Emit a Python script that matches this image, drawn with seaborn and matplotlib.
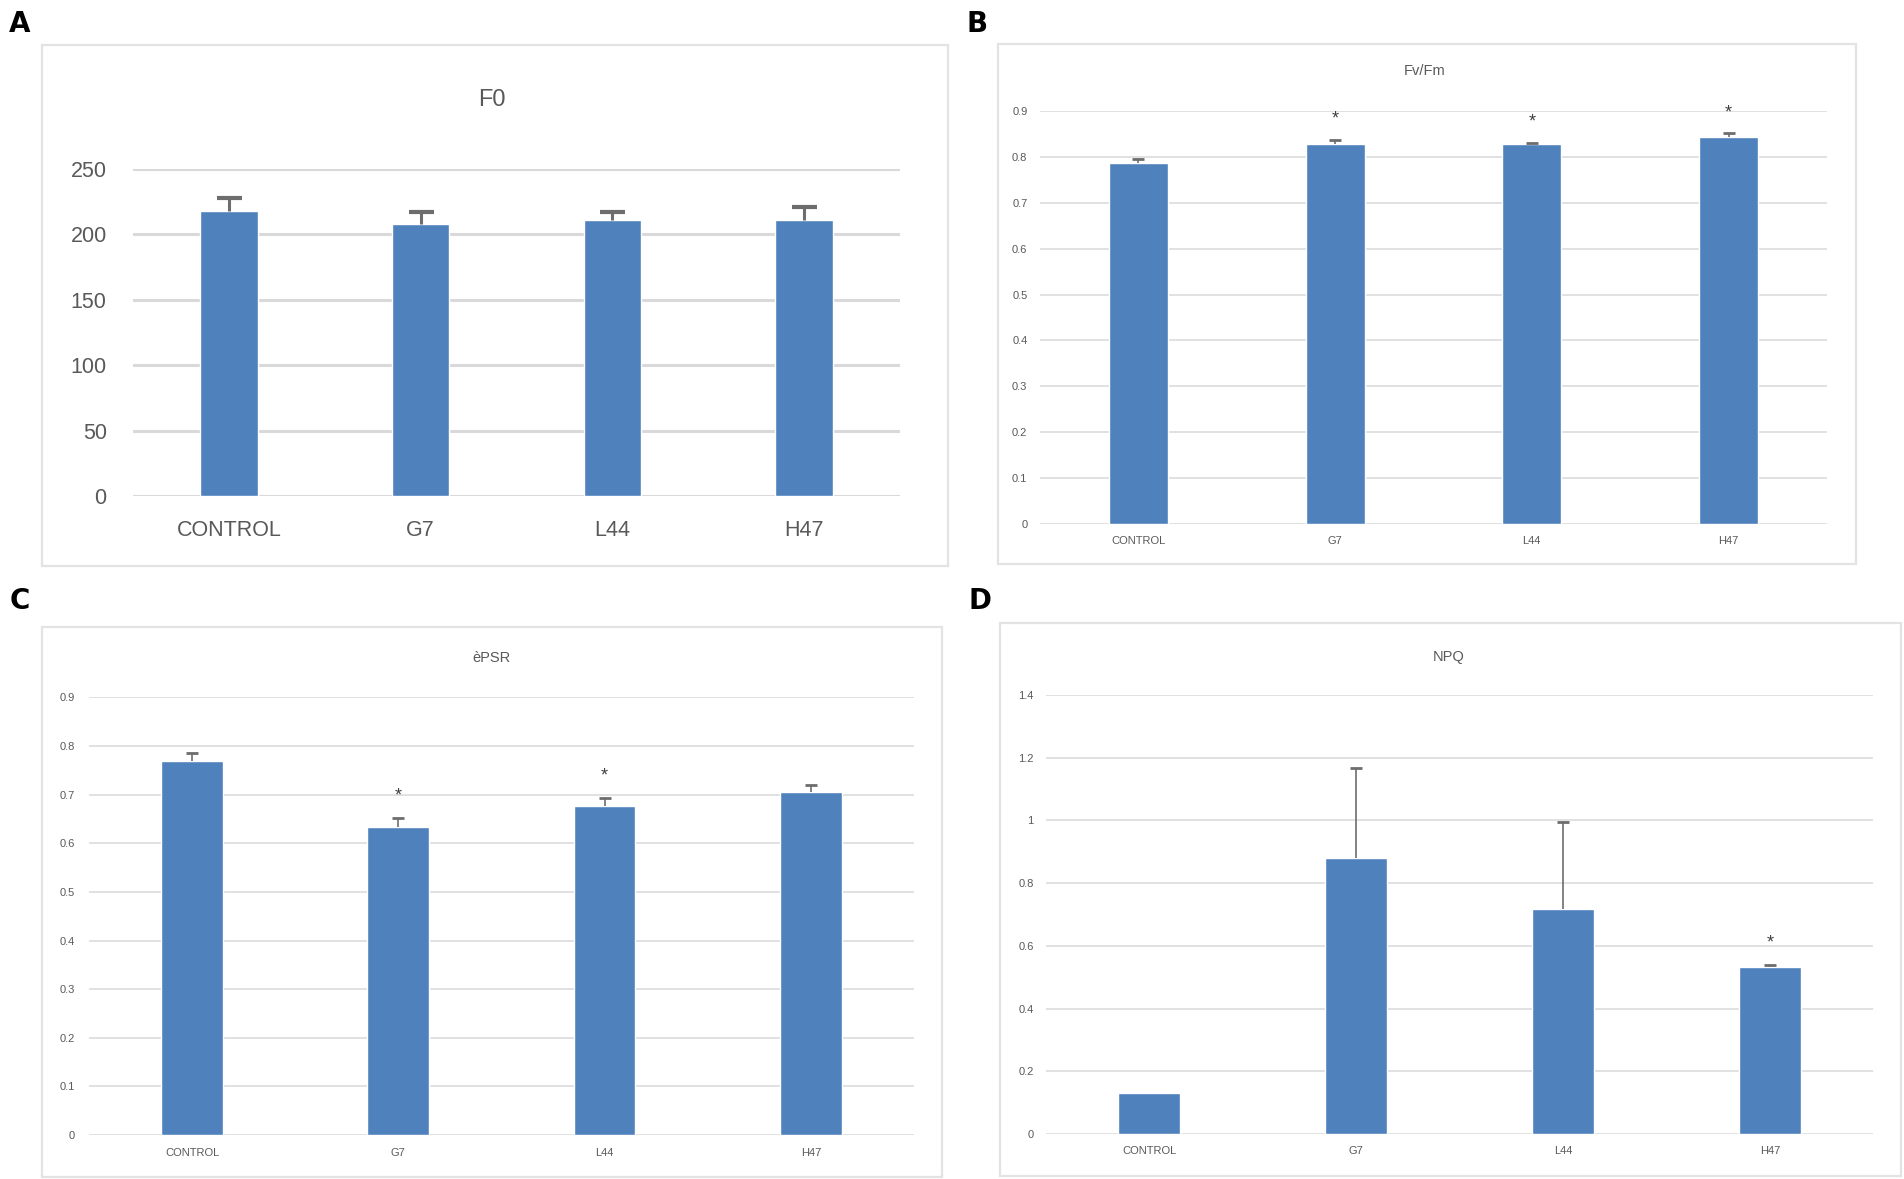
import numpy as np
import matplotlib
matplotlib.use('Agg')
import matplotlib.pyplot as plt
from matplotlib.patches import Rectangle
import seaborn as sns

# data
categories = ['CONTROL', 'G7', 'L44', 'H47']

f0_mean = [218, 208, 211, 211]
f0_err = [10, 9, 6, 10]
f0_sig = [False, False, False, False]

fvfm_mean = [0.786, 0.827, 0.827, 0.843]
fvfm_err = [0.009, 0.010, 0.004, 0.008]
fvfm_sig = [False, True, True, True]

psr_mean = [0.770, 0.634, 0.676, 0.706]
psr_err = [0.015, 0.018, 0.018, 0.013]
psr_sig = [False, True, True, False]

npq_mean = [0.130, 0.879, 0.718, 0.534]
npq_err = [0.0, 0.287, 0.278, 0.005]
npq_sig = [False, False, False, True]

BAR = '#4f81bd'
GRID = '#d9d9d9'
TXT = '#595959'
ERR = '#6d6d6d'

sns.set_style('white')
plt.rcParams['font.family'] = ['Liberation Sans Narrow', 'Liberation Sans', 'DejaVu Sans']

fig = plt.figure(figsize=(19.04, 11.79), dpi=100)


def draw_panel(rect, frame, title, title_pos, means, errs, sig, ymax, ystep,
               tick_fs, title_fs, grid_lw, cap, capth, elw, xpad, ypad, tickfmt):
    # light grey frame around each panel, like the excel chart area
    fig.patches.append(Rectangle((frame[0], frame[1]), frame[2], frame[3],
                                 transform=fig.transFigure, fill=False,
                                 edgecolor='#e3e3e3', lw=1.6, zorder=0))
    ax = fig.add_axes(rect)
    sns.barplot(x=categories, y=means, color=BAR, width=0.3, saturation=1,
                errorbar=None, ax=ax, zorder=3)
    means = np.asarray(means, dtype=float)
    errs = np.asarray(errs, dtype=float)
    x = np.arange(len(categories))
    keep = errs > 0
    # upper error bars only (lower cap hidden)
    _, caps, _ = ax.errorbar(x[keep], means[keep],
                             yerr=[np.zeros(keep.sum()), errs[keep]],
                             fmt='none', ecolor=ERR, elinewidth=elw,
                             capsize=cap, capthick=capth, zorder=4)
    if len(caps) == 2:
        caps[0].set_visible(False)
    for i in range(len(categories)):
        if sig[i]:
            ax.text(x[i], means[i] + errs[i] + 0.05 * ymax, '*', ha='center',
                    va='center', fontsize=tick_fs + 5, color='#404040',
                    clip_on=False)
    ax.set_xlim(-0.5, 3.5)
    ax.set_ylim(0, ymax)
    ticks = np.arange(0, ymax + ystep / 2, ystep)
    ax.set_yticks(ticks)
    ax.set_yticklabels([tickfmt(t) for t in ticks])
    ax.yaxis.grid(True, color=GRID, lw=grid_lw)
    ax.set_axisbelow(True)
    for s in ax.spines.values():
        s.set_visible(False)
    ax.tick_params(axis='both', length=0, colors=TXT, labelsize=tick_fs)
    ax.tick_params(axis='x', pad=xpad)
    ax.tick_params(axis='y', pad=ypad)
    ax.set_xlabel('')
    ax.set_ylabel('')
    fig.text(title_pos[0], title_pos[1], title, ha='center', va='center',
             fontsize=title_fs, color=TXT)
    return ax


def fmt_int(t):
    return f'{int(round(t))}'


def fmt_dec(t):
    if abs(t) < 1e-9:
        return '0'
    if abs(t - round(t)) < 1e-9:
        return f'{int(round(t))}'
    return f'{t:.1f}'.rstrip('0')


draw_panel([0.0699, 0.5793, 0.4028, 0.2774], (0.0221, 0.5199, 0.4758, 0.4419),
           'F0', (0.2584, 0.9152), f0_mean, f0_err, f0_sig, 250, 50,
           15.5, 17, 2.2, 9, 3.0, 2.2, 17, 19, fmt_int)

draw_panel([0.5462, 0.5556, 0.4133, 0.3503], (0.5242, 0.5216, 0.4506, 0.4411),
           'Fv/Fm', (0.7484, 0.9398), fvfm_mean, fvfm_err, fvfm_sig, 0.9, 0.1,
           8, 10.5, 1.1, 4.5, 2.0, 1.2, 9, 9, fmt_dec)

draw_panel([0.0467, 0.0373, 0.4333, 0.3711], (0.0221, 0.0017, 0.4727, 0.4665),
           'èPSR', (0.2579, 0.4419), psr_mean, psr_err, psr_sig, 0.9, 0.1,
           8, 10.5, 1.1, 4.5, 2.0, 1.2, 9, 10, fmt_dec)

draw_panel([0.5494, 0.0382, 0.4344, 0.3723], (0.5252, 0.0025, 0.4732, 0.4690),
           'NPQ', (0.7610, 0.4427), npq_mean, npq_err, npq_sig, 1.4, 0.2,
           8, 10.5, 1.1, 4.5, 2.0, 1.2, 9, 9, fmt_dec)

# panel letters
for lbl, px, py in [('A', 0.0105, 0.980), ('B', 0.5130, 0.980),
                    ('C', 0.0105, 0.490), ('D', 0.5145, 0.490)]:
    fig.text(px, py, lbl, ha='center', va='center', fontsize=20,
             fontweight='bold', family=['DejaVu Sans'], color='black')

fig.savefig('out.png', dpi=100, facecolor='white')
